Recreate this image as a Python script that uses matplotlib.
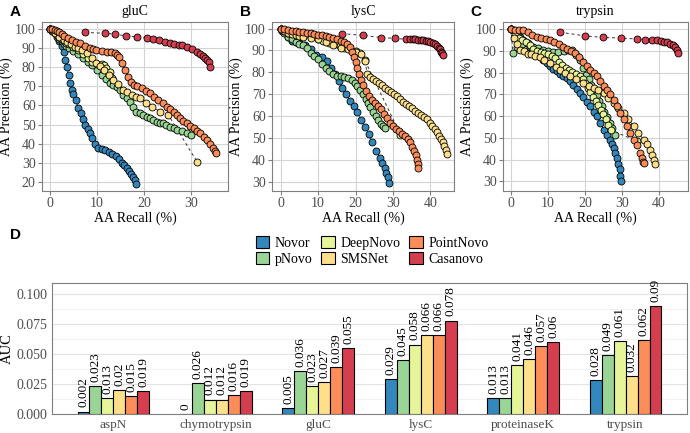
import matplotlib
matplotlib.use("Agg")
import matplotlib.pyplot as plt
from matplotlib.patches import Patch
import numpy as np

plt.rcParams['font.family'] = ['Liberation Serif', 'DejaVu Serif']

methods = ["Novor", "pNovo", "DeepNovo", "SMSNet", "PointNovo", "Casanovo"]
colors = ["#3288BD", "#99D594", "#E6F598", "#FEE08B", "#FC8D59", "#D53E4F"]

# ---- panel A: gluC ----
glu_novor_x = [0, 0.5, 1, 1.5, 2, 2.5, 3, 3.3, 3.6, 4, 4.3, 4.6, 5, 5.5, 6, 6.5, 7, 7.5, 8, 8.5, 9, 9.5, 10.2, 11, 11.8, 12.5, 13.2, 14, 14.7, 15.3, 15.8, 16.3, 16.8, 17.2, 17.6, 18, 18.4]
glu_novor_y = [100, 99.5, 99, 97, 94, 91, 88, 84, 80, 76, 72, 68, 66, 63, 58.5, 56, 53, 50, 47.5, 45.5, 43, 40, 37.5, 37, 36.5, 35.5, 34.5, 33.5, 32, 30, 28.5, 27, 25.5, 24, 22.5, 21, 19]
glu_pnovo_x = [0, 0.5, 1, 1.5, 2, 2.5, 3, 3.5, 4, 5, 6, 7, 8, 9, 10, 11, 12, 12.8, 13.5, 14.2, 15, 15.6, 16.3, 17, 17.7, 18.4, 19.2, 19.9, 20.6, 21.3, 22, 22.7, 23.4, 24.1, 24.8, 25.5, 26.3, 27, 28, 29.1, 30]
glu_pnovo_y = [100, 99, 98, 96, 95, 94, 92, 91, 90, 88.5, 87, 85, 83, 81, 78.5, 76, 74, 72, 70.8, 69.5, 68, 65.5, 64, 62, 59, 56.7, 56, 55, 54, 53.3, 52.5, 51.5, 51, 50.7, 50, 48.9, 48, 47.1, 46.5, 45.4, 44.5]
glu_deepnovo_x = [0, 0.5, 1, 1.5, 2, 2.5, 3, 3.5, 4, 5, 6, 7, 8, 9, 10, 11, 11.4, 12, 12.8, 13.1]
glu_deepnovo_y = [100, 99, 98, 97, 96, 95, 94, 93, 92, 90.5, 89, 87, 85, 83, 82, 81.5, 81.3, 79.5, 77.8, 74.3]
glu_smsnet_x = [0, 1, 2, 3, 3.6, 4.5, 5.3, 6, 6.8, 7.8, 8.9, 9.8, 10.7, 11.6, 12.5, 13.5, 14.5, 15.6, 16.5, 17.4, 18.3, 19.2, 20.5, 21.7, 23.5, 25.2, 31.3]
glu_smsnet_y = [100, 98, 96, 94.5, 93.5, 92, 90.9, 90, 89.1, 87.4, 84.8, 82.5, 80.5, 78.5, 76, 73.4, 71, 68.1, 66.8, 65.5, 64.5, 63.8, 61.5, 59.4, 56.7, 55, 30.5]
glu_pointnovo_x = [0, 0.5, 1, 1.5, 2, 2.5, 3, 3.8, 4.6, 5.5, 6.4, 7.5, 8.5, 9.2, 9.9, 11, 12.1, 13, 13.9, 14.2, 14.7, 15.3, 16, 16.7, 17.3, 17.8, 18.6, 19.5, 20.4, 21.3, 22.2, 23.1, 24, 24.9, 25.6, 26.3, 27, 27.7, 28.4, 29.1, 29.8, 30.6, 31.3, 32, 32.7, 33.4, 34.1, 34.8, 35.2, 35.4]
glu_pointnovo_y = [100, 100, 99.5, 99, 98.5, 97.5, 96.5, 95.5, 94.4, 93.5, 92.6, 91, 90, 89.5, 89.1, 88.7, 88.3, 87.8, 87.4, 86.5, 85.6, 82.1, 78.5, 75.1, 72.5, 70.8, 70, 69, 67.8, 66.4, 64.5, 62.9, 61.2, 59.4, 58, 56.7, 55, 53.3, 52, 50.6, 49.3, 48, 46.7, 45.4, 43.6, 41.9, 39.8, 37.5, 36, 34.9]
glu_casanovo_x = [7.5, 11.7, 13.9, 16.2, 18.5, 20.6, 22, 23.3, 24.5, 25.5, 26.5, 27.5, 28.1, 29.1, 30.2, 31.3, 32, 32.6, 33.1, 33.5, 33.8, 34]
glu_casanovo_y = [98.3, 97.9, 97.4, 96.5, 96, 95.6, 94.7, 94.4, 93.5, 93, 92.3, 91.8, 91.6, 90.9, 89.5, 88.3, 87, 86, 85, 84, 83, 80]

# ---- panel B: lysC ----
lys_novor_x = [0, 0.5, 1, 2, 3, 4, 5, 6.5, 8, 9.5, 11, 12.5, 13.5, 14.5, 15.5, 16.5, 17.5, 18.5, 19.5, 20.5, 21.5, 22.5, 23.5, 24.5, 25.5, 26.5, 27.2, 27.8, 28.2, 28.6, 29]
lys_novor_y = [100, 99.5, 99, 96, 94.5, 94, 93.5, 92.5, 90.5, 88, 87, 85, 82, 79, 76, 73, 70, 67, 64.5, 62, 58, 55, 52, 48, 44, 41, 38.5, 36, 34, 32, 29.5]
lys_pnovo_x = [0, 0.5, 1, 2, 3, 4, 5, 6, 7, 8, 9, 10, 11, 12, 13, 14, 15, 16, 17, 18, 19, 19.8, 20.5, 21.2, 22, 22.7, 23.4, 24, 24.7, 25.4, 26, 26.7, 27.4, 28]
lys_pnovo_y = [100, 99, 98, 96, 95, 94, 93, 92.5, 91, 89, 87.5, 86, 84, 82, 80.5, 79, 78.5, 78.5, 78, 77.5, 76.5, 75, 73.5, 72, 70, 68, 66, 64, 62, 60, 58, 56.5, 55.5, 54.5]
lys_deepnovo_x = [0, 1, 2, 4, 6, 8, 10, 11.4, 13, 14.5, 15.8, 17, 18.5, 20, 21.2, 22.5, 32]
lys_deepnovo_y = [100, 99, 98, 97, 96.5, 96, 95, 94.3, 93.5, 92.8, 92, 91, 90.5, 89.8, 89, 85.4, 51.5]
lys_smsnet_x = [0, 1, 2, 3, 4, 5, 6, 8, 10, 12, 14, 16, 18, 20, 21.5, 22.5, 23.2, 24, 24.7, 25.5, 26.3, 27.1, 27.9, 28.7, 29.5, 30.3, 31.1, 31.9, 32.7, 33.5, 34.3, 35.1, 35.9, 36.7, 37.5, 38.3, 39.1, 39.8, 40.5, 41.1, 41.7, 42.3, 42.8, 43.3, 43.7, 44.1, 44.4]
lys_smsnet_y = [100, 99, 98, 97.5, 97, 96.5, 96, 95.5, 95, 94, 92.5, 91, 90.5, 89.5, 88.5, 85, 79, 78, 76.7, 76, 75, 74, 73, 72, 71, 70, 69, 68, 66.5, 65.5, 64.5, 63.5, 62.5, 61.5, 60.5, 59.5, 58.5, 57, 55.5, 54, 52.5, 51, 49.5, 48, 46.5, 44.5, 42.7]
lys_pointnovo_x = [0, 1, 2, 3, 4, 5, 6, 7, 8, 9, 10, 11, 12, 13, 14, 15, 16, 17, 17.8, 18.5, 19, 19.5, 20, 20.5, 21, 21.5, 22, 22.7, 23.5, 24.3, 25.2, 26, 26.8, 27.6, 28.4, 29.2, 30, 30.8, 31.6, 32.4, 33.2, 34, 34.6, 35.2, 35.7, 36.1, 36.4, 36.6, 36.8]
lys_pointnovo_y = [100, 100, 99.5, 99, 99, 98.5, 98.5, 98, 98, 97.5, 97, 97, 96.5, 96, 95.5, 95, 94.5, 94, 93, 91.5, 89.5, 87, 84.5, 82, 79, 76.5, 74, 71.5, 69, 67.5, 66, 64.5, 63, 61, 59, 57, 55.5, 54, 53, 52, 51, 49.5, 48, 46, 44, 42, 40, 38, 36]
lys_casanovo_x = [16.3, 22, 26.9, 30.5, 33.6, 34.5, 35.4, 36, 36.7, 37.4, 38, 38.7, 39.4, 40, 40.7, 41.3, 41.8, 42.2, 42.5, 42.9, 43.2, 43.4]
lys_casanovo_y = [97.7, 96.9, 95.9, 95.5, 95.1, 95.1, 95.1, 95, 94.9, 94.8, 94.8, 94.5, 94.3, 94, 93.5, 92.8, 92, 91.3, 90.5, 89.5, 88.7, 87.9]

# ---- panel C: trypsin ----
try_novor_x = [0, 0.7, 1.5, 2.4, 3.3, 4.2, 5.1, 6, 6.9, 7.8, 8.7, 9.6, 10.5, 11.4, 12.3, 13.2, 14.1, 15, 15.9, 16.8, 17.7, 18.6, 19.5, 20.5, 21.4, 22.3, 23.2, 24.1, 25, 25.9, 26.8, 27.3, 27.7, 28.2, 28.6, 29, 29.3, 29.5, 29.6]
try_novor_y = [100, 99, 98, 96.5, 95, 93.5, 92, 90.5, 89, 87.5, 86, 84.4, 83, 81.8, 80.6, 79.5, 78.5, 77.5, 76, 74.4, 72.5, 70.8, 69, 66.5, 64.5, 62, 59.9, 57, 53.8, 51.5, 49.2, 47.2, 45.3, 43, 40.7, 38, 35.4, 32.5, 30]
try_pnovo_x = [0, 0.5, 1.5, 3, 4.5, 6, 7.3, 8.7, 10, 11.2, 12.7, 14.2, 15.5, 16.5, 17.5, 18.5, 19.5, 20.3, 21, 21.7, 22.4, 23.1, 23.8, 24.5, 25.2, 25.9, 26.6, 27.3, 28]
try_pnovo_y = [100, 89, 92, 93, 93.5, 92, 91.4, 90.5, 90, 89.6, 89.6, 90, 90.5, 90.5, 88, 86, 82, 79, 77, 74.5, 72, 69.5, 67, 64.5, 62, 59.5, 57, 54.5, 51.5]
try_deepnovo_x = [0, 1, 2, 3, 4, 5, 6, 7, 8, 9, 10, 11, 11.9, 12.8, 13.8, 14.8, 15.7, 16.5, 17.5, 18.5, 19.3, 20, 20.7, 21.4, 22.1, 22.8, 23.5, 24.2, 24.9, 25.6, 26.3, 27, 34]
try_deepnovo_y = [100, 98, 96, 95, 94, 92.5, 91, 90, 89.5, 89, 88.5, 87.5, 86.8, 85, 83.6, 82, 81, 80.4, 79.5, 78.5, 77, 75, 73, 71, 69, 67, 65, 63, 61, 58.5, 56, 53.5, 48.5]
try_smsnet_x = [0, 0.8, 1.5, 2.5, 3.5, 4.5, 5.5, 6.5, 7.8, 9, 10.5, 12, 13.2, 14.5, 15.9, 17.5, 19.5, 21, 22.3, 23.5, 25, 26.3, 27.7, 29, 30.4, 31.7, 33.1, 34.4, 35.8, 36.7, 37.6, 38.2, 38.6, 38.8]
try_smsnet_y = [100, 96, 93, 90.5, 90, 88.5, 88.5, 87.8, 87.4, 86, 84.4, 82.8, 81.3, 79.8, 78.3, 77, 75.2, 74, 72.9, 71.8, 70.6, 68.5, 66, 63.7, 61.4, 58.5, 55.3, 52.2, 49.2, 47, 44.6, 42, 40, 38]
try_pointnovo_x = [0, 1, 2, 3.3, 4.5, 5.7, 6.9, 8.1, 9.3, 10.5, 11.7, 12.9, 14.1, 15.2, 16.3, 17.3, 18.4, 19.5, 20.4, 21.3, 22.3, 23.1, 24, 25, 25.9, 26.8, 27.7, 28.6, 29.5, 30.4, 31.3, 32.2, 33.1, 34, 34.7, 35.3, 35.6, 35.8]
try_pointnovo_y = [100, 99.8, 99.7, 99.7, 98.5, 97.4, 96.5, 96, 95.5, 95.1, 94, 93, 92, 91, 89.9, 89, 87, 85.1, 83.2, 81.3, 80, 78.3, 76, 74, 72.1, 70, 67.5, 64.5, 61.4, 58.5, 55.3, 52.2, 49.2, 46.5, 43, 40.5, 39, 38.4]
try_casanovo_x = [13.2, 20, 24.9, 29.7, 34, 36.3, 38, 39.3, 40.4, 41.3, 42.2, 43, 43.7, 44.3, 44.8, 45.2]
try_casanovo_y = [98.6, 96.9, 96.2, 95.9, 95.5, 95.2, 95.1, 94.8, 94.5, 94.3, 93.9, 93.3, 92.6, 91.6, 90.5, 89]

# ---- panel D: AUC ----
enzymes = ["aspN", "chymotrypsin", "gluC", "lysC", "proteinaseK", "trypsin"]
auc_novor = [0.002, 0, 0.005, 0.029, 0.013, 0.028]
auc_pnovo = [0.023, 0.026, 0.036, 0.045, 0.013, 0.049]
auc_deepnovo = [0.013, 0.012, 0.023, 0.058, 0.041, 0.061]
auc_smsnet = [0.02, 0.012, 0.027, 0.066, 0.046, 0.032]
auc_pointnovo = [0.015, 0.016, 0.039, 0.066, 0.057, 0.062]
auc_casanovo = [0.019, 0.019, 0.055, 0.078, 0.06, 0.09]

curves = {
    "gluC": [(glu_novor_x, glu_novor_y), (glu_pnovo_x, glu_pnovo_y), (glu_deepnovo_x, glu_deepnovo_y),
             (glu_smsnet_x, glu_smsnet_y), (glu_pointnovo_x, glu_pointnovo_y), (glu_casanovo_x, glu_casanovo_y)],
    "lysC": [(lys_novor_x, lys_novor_y), (lys_pnovo_x, lys_pnovo_y), (lys_deepnovo_x, lys_deepnovo_y),
             (lys_smsnet_x, lys_smsnet_y), (lys_pointnovo_x, lys_pointnovo_y), (lys_casanovo_x, lys_casanovo_y)],
    "trypsin": [(try_novor_x, try_novor_y), (try_pnovo_x, try_pnovo_y), (try_deepnovo_x, try_deepnovo_y),
                (try_smsnet_x, try_smsnet_y), (try_pointnovo_x, try_pointnovo_y), (try_casanovo_x, try_casanovo_y)],
}
aucs = [auc_novor, auc_pnovo, auc_deepnovo, auc_smsnet, auc_pointnovo, auc_casanovo]

W, H = 690, 433
fig = plt.figure(figsize=(W / 100, H / 100), dpi=100)

def rect(l, t, r, b):
    return [l / W, 1 - b / H, (r - l) / W, (b - t) / H]

frame_col = "#7f7f7f"
tick_col = "#4d4d4d"
fs = 9.5

top = [("gluC", "A", rect(42, 22, 228, 191), (-1.7, 37.9), (15.1, 103.8), [0, 10, 20, 30], range(20, 101, 10), 10),
       ("lysC", "B", rect(272, 22, 454, 191), (-2.3, 46.3), (25.7, 103.0), [0, 10, 20, 30, 40], range(30, 101, 10), 240),
       ("trypsin", "C", rect(503, 22, 688, 191), (-2.2, 47.8), (25.5, 103.3), [0, 10, 20, 30, 40], range(30, 101, 10), 470)]

for name, letter, r, xl, yl, xt, yt, lx in top:
    ax = fig.add_axes(r)
    for x, y in curves[name]:
        ax.plot(x, y, ls=(0, (3, 3)), color="#333333", lw=0.7, zorder=2)
    for (x, y), c in zip(curves[name], colors):
        ax.scatter(x, y, s=25, color=c, edgecolors="black", linewidths=0.6, zorder=3)
    ax.set_xlim(xl)
    ax.set_ylim(yl)
    ax.set_xticks(xt)
    ax.set_yticks(list(yt))
    ax.grid(color="#d4d4d4", lw=0.8)
    ax.set_axisbelow(True)
    for s in ax.spines.values():
        s.set_color(frame_col)
        s.set_linewidth(0.8)
    ax.tick_params(colors=frame_col, labelcolor=tick_col, length=3, width=0.8, labelsize=fs + 0.5, pad=1.5)
    ax.set_title(name, fontsize=fs + 0.5, pad=5)
    ax.set_xlabel("AA Recall (%)", fontsize=fs + 0.5, labelpad=1)
    ax.set_ylabel("AA Precision (%)", fontsize=fs + 0.5, labelpad=1.5)
    fig.text(lx / W, 1 - 12 / H, letter, fontsize=11, fontweight="bold",
             family="Liberation Sans", va="center", ha="left")

# ---- bar chart ----
axd = fig.add_axes(rect(52, 283, 687, 414))
xs = np.arange(1, len(enzymes) + 1)
w = 0.117
for i, (vals, c) in enumerate(zip(aucs, colors)):
    pos = xs + (i - 2.5) * w
    axd.bar(pos, vals, w, color=c, edgecolor="black", linewidth=0.8, zorder=3)
    for p, v in zip(pos, vals):
        axd.annotate(f"{v:g}", (p, v), xytext=(0, 3), textcoords="offset points",
                     rotation=90, ha="center", va="bottom", fontsize=fs, zorder=4)
axd.set_xlim(0.4, 6.6)
axd.set_ylim(0, 0.1094)
axd.set_xticks(xs)
axd.set_xticklabels(enzymes)
axd.set_yticks([0, 0.025, 0.05, 0.075, 0.1])
axd.set_yticklabels(["0.000", "0.025", "0.050", "0.075", "0.100"])
axd.set_yticks([0.0125, 0.0375, 0.0625, 0.0875], minor=True)
axd.grid(axis="y", which="major", color="#e3e3e3", lw=0.8)
axd.grid(axis="y", which="minor", color="#efefef", lw=0.6)
axd.set_axisbelow(True)
for s in axd.spines.values():
    s.set_color(frame_col)
    s.set_linewidth(0.8)
axd.tick_params(axis="both", which="both", length=0, labelsize=fs + 0.5, labelcolor=tick_col, pad=3.5)
axd.tick_params(axis="x", labelsize=fs)
axd.set_ylabel("AUC", fontsize=fs + 1, labelpad=1.5)
fig.text(10 / W, 1 - 235 / H, "D", fontsize=11, fontweight="bold",
         family="Liberation Sans", va="center", ha="left")

handles = [Patch(facecolor=c, edgecolor="black", linewidth=0.8) for c in colors]
fig.legend(handles, methods, ncol=3, loc="center", bbox_to_anchor=(372 / W, 1 - 251 / H),
           frameon=False, fontsize=fs + 0.5, handlelength=1.0, handleheight=1.0,
           handletextpad=0.4, columnspacing=0.6, labelspacing=0.15, borderpad=0)

fig.savefig("out.png", dpi=100)
